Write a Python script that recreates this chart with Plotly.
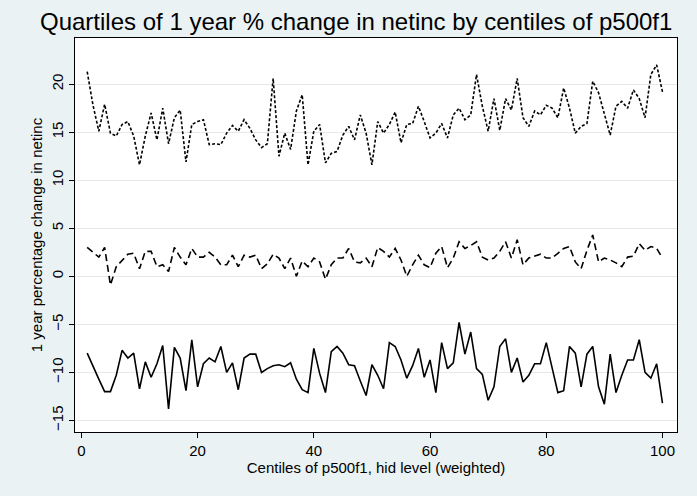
import plotly.graph_objects as go

centiles = list(range(1, 101))

p75 = [21.3, 17.8, 15.1, 17.9, 14.9, 14.6, 15.8, 16.1, 14.6, 11.6,
       14.6, 17.0, 14.2, 17.5, 13.8, 16.5, 17.3, 11.9, 15.8, 16.1,
       16.3, 13.7, 13.8, 13.7, 14.9, 15.7, 15.1, 16.3, 15.4, 14.2,
       13.4, 13.8, 20.6, 12.5, 14.9, 13.2, 17.2, 18.9, 11.6, 15.1,
       15.8, 11.8, 12.8, 13.0, 14.7, 15.6, 14.2, 16.8, 14.9, 11.6,
       16.1, 14.9, 15.8, 17.1, 13.9, 15.8, 15.9, 17.7, 16.1, 14.4,
       14.9, 15.9, 14.4, 16.8, 17.5, 16.3, 16.8, 21.0, 17.7, 15.1,
       18.5, 15.2, 18.5, 17.3, 20.6, 16.5, 15.6, 17.2, 16.8, 17.8,
       17.5, 16.5, 19.6, 17.5, 14.9, 15.6, 15.9, 20.3, 19.1, 16.8,
       14.7, 17.7, 18.2, 17.5, 19.4, 18.5, 16.5, 21.0, 22.0, 19.2]

p50 = [3.0, 2.5, 2.0, 3.0, -0.9, 1.0, 1.7, 2.3, 2.4, 0.8,
       2.6, 2.6, 1.0, 1.2, 0.5, 3.0, 2.0, 1.2, 2.9, 2.0,
       2.0, 2.5, 2.0, 1.2, 1.2, 2.2, 1.0, 2.2, 2.0, 2.2,
       0.8, 1.3, 2.3, 1.9, 0.8, 1.9, 0.0, 1.6, 1.0, 1.9,
       1.5, -0.3, 1.2, 1.9, 1.9, 2.9, 1.5, 1.4, 1.9, 1.0,
       3.0, 2.6, 2.0, 2.9, 1.7, 0.0, 1.2, 2.2, 1.2, 0.9,
       2.4, 3.1, 0.9, 1.9, 3.6, 2.9, 3.2, 3.6, 2.0, 1.7,
       1.9, 2.6, 3.6, 1.9, 3.8, 1.2, 1.9, 2.1, 2.3, 1.9,
       1.9, 2.4, 2.9, 3.1, 1.5, 0.8, 2.7, 4.3, 1.5, 1.9,
       1.7, 1.4, 1.0, 2.0, 2.1, 3.4, 2.7, 3.1, 2.9, 1.9]

p25 = [-8.0, -9.4, -10.7, -12.0, -12.0, -10.3, -7.7, -8.5, -8.0, -11.7,
       -8.9, -10.5, -9.1, -7.2, -13.8, -7.4, -8.5, -11.9, -6.6, -11.5,
       -9.1, -8.5, -8.9, -7.3, -10.0, -9.0, -11.8, -8.5, -8.1, -8.1,
       -10.0, -9.6, -9.3, -9.2, -9.4, -9.0, -10.7, -11.8, -12.1, -7.5,
       -10.1, -12.1, -7.85, -7.3, -8.0, -9.2, -9.3, -10.9, -12.4, -9.2,
       -10.3, -11.7, -6.9, -7.3, -8.7, -10.6, -9.3, -7.5, -10.5, -8.7,
       -12.1, -6.9, -9.6, -9.0, -4.8, -8.1, -5.8, -9.6, -10.2, -12.9,
       -11.5, -7.3, -6.5, -10.0, -8.5, -11.0, -10.3, -9.1, -9.1, -6.9,
       -9.4, -12.1, -11.9, -7.3, -8.0, -11.5, -8.1, -7.3, -11.5, -13.3,
       -8.1, -12.1, -10.3, -8.7, -8.7, -6.6, -10.0, -10.6, -9.1, -13.2]

y_ticks = [-15, -10, -5, 0, 5, 10, 15, 20]
x_ticks = [0, 20, 40, 60, 80, 100]

font_family = "Liberation Sans, Arial, sans-serif"

fig = go.Figure()
fig.add_trace(go.Scatter(x=centiles, y=p25, mode="lines",
                         line=dict(color="black", width=1.6, dash="solid"),
                         name="p25"))
fig.add_trace(go.Scatter(x=centiles, y=p50, mode="lines",
                         line=dict(color="black", width=1.6, dash="7px,4px"),
                         name="p50"))
fig.add_trace(go.Scatter(x=centiles, y=p75, mode="lines",
                         line=dict(color="black", width=1.6, dash="3px,2px"),
                         name="p75"))

fig.update_layout(
    width=697, height=496,
    paper_bgcolor="#EAF2F3",
    plot_bgcolor="white",
    showlegend=False,
    margin=dict(l=75, r=20, t=38, b=64, autoexpand=False),
    font=dict(family=font_family, color="black"),
    title=dict(text="Quartiles of 1 year % change in netinc by centiles of p500f1",
               x=40 / 697, xanchor="left", xref="container", y=1 - 22 / 496,
               yref="container", yanchor="middle",
               font=dict(size=24, family=font_family)),
)

fig.update_xaxes(
    range=[-1.1, 102.5], tickvals=x_ticks, ticks="outside", ticklen=5,
    tickcolor="black", showline=True, linecolor="black", linewidth=1,
    mirror=True, showgrid=False, zeroline=False, automargin=False,
    tickfont=dict(size=15),
    title=dict(text="Centiles of p500f1, hid level (weighted)",
               font=dict(size=15), standoff=0),
)
fig.update_yaxes(
    range=[-16.2, 24.8], tickvals=y_ticks, ticks="outside", ticklen=5,
    tickcolor="black", showline=True, linecolor="black", linewidth=1,
    mirror=True, showgrid=True, gridcolor="#E6E9EA", gridwidth=1,
    zeroline=False, tickangle=-90, automargin=False,
    tickfont=dict(size=15),
    title=dict(text="1 year percentage change in netinc",
               font=dict(size=15), standoff=2),
)

fig.write_html("out.html", config={"displayModeBar": False},
               post_script="document.body.style.margin='0px';")
